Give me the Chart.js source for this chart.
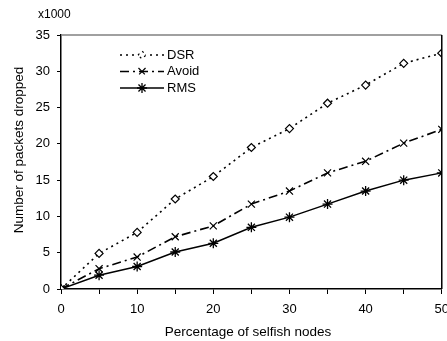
<!DOCTYPE html>
<html>
<head>
<meta charset="utf-8">
<script src="https://cdn.jsdelivr.net/npm/chart.js@4"></script>
<style>
  html, body { margin: 0; padding: 0; background: #fff; overflow: hidden; }
  #wrap { width: 457px; height: 341px; }
</style>
</head>
<body>
<div id="wrap"><canvas id="chart"></canvas></div>
<script>
// values (packets dropped, x1000)
const selfish = [0, 5, 10, 15, 20, 25, 30, 35, 40, 45, 50];
const dsr   = [0, 4.9, 7.8, 12.4, 15.5, 19.5, 22.1, 25.6, 28.1, 31.1, 32.5];
const avoid = [0, 2.8, 4.4, 7.2, 8.7, 11.7, 13.5, 16.0, 17.6, 20.1, 22.0];
const rms   = [0, 1.9, 3.1, 5.1, 6.3, 8.5, 9.9, 11.7, 13.5, 15.0, 16.0];

const xTitle = 'Percentage of selfish nodes';
const yTitle = 'Number of packets dropped';
const yUnit = 'x1000';

const font = 'Liberation Sans, Arial, sans-serif';
Chart.defaults.font.family = font;
Chart.defaults.color = '#000';

function pts(ys) {
    return ys.map((y, i) => ({ x: selfish[i], y: y }));
}

// plot frame (gray top, black right), axis titles, "x1000" and the legend
const extras = {
    id: 'extras',
    afterDraw(chart) {
        const ctx = chart.ctx;
        const a = chart.chartArea;
        ctx.save();
        ctx.lineWidth = 1.5;
        ctx.strokeStyle = '#808080';
        ctx.beginPath();
        ctx.moveTo(a.left, a.top);
        ctx.lineTo(a.right, a.top);
        ctx.stroke();
        ctx.strokeStyle = '#000';
        ctx.beginPath();
        ctx.moveTo(a.right, a.top);
        ctx.lineTo(a.right, a.bottom);
        ctx.stroke();

        ctx.fillStyle = '#000';
        ctx.textBaseline = 'middle';
        ctx.font = '12px ' + font;
        ctx.textAlign = 'left';
        ctx.fillText(yUnit, 38, 15);

        ctx.font = '13.5px ' + font;
        ctx.textAlign = 'center';
        ctx.fillText(xTitle, 248, 332);
        ctx.save();
        ctx.translate(19, 150);
        ctx.rotate(-Math.PI / 2);
        ctx.fillText(yTitle, 0, 0);
        ctx.restore();

        // legend
        ctx.font = '13px ' + font;
        ctx.textAlign = 'left';
        chart.data.datasets.forEach((ds, i) => {
            const y = 55 + i * 16.5;
            ctx.save();
            ctx.strokeStyle = '#000';
            ctx.lineWidth = ds.borderWidth;
            ctx.setLineDash(ds.borderDash || []);
            ctx.beginPath();
            ctx.moveTo(120, y);
            ctx.lineTo(164, y);
            ctx.stroke();
            ctx.fillStyle = ds.pointBackgroundColor;
            ctx.strokeStyle = '#000';
            ctx.lineWidth = ds.pointBorderWidth;
            Chart.helpers.drawPoint(ctx, {
                pointStyle: ds.pointStyle,
                radius: ds.pointRadius,
                borderWidth: ds.pointBorderWidth
            }, 142, y);
            ctx.restore();
            ctx.fillText(ds.label, 167, y);
        });
        ctx.restore();
    }
};

new Chart(document.getElementById('chart'), {
    type: 'line',
    data: {
        datasets: [
            {
                label: 'DSR', data: pts(dsr),
                borderColor: '#000', borderWidth: 1.6, borderDash: [2, 4],
                pointStyle: 'rectRot', pointRadius: 4, pointBorderWidth: 1.2,
                pointBackgroundColor: '#fff', pointBorderColor: '#000'
            },
            {
                label: 'Avoid', data: pts(avoid),
                borderColor: '#000', borderWidth: 1.6, borderDash: [9, 4, 2, 4],
                pointStyle: 'crossRot', pointRadius: 5, pointBorderWidth: 1.2,
                pointBackgroundColor: '#000', pointBorderColor: '#000'
            },
            {
                label: 'RMS', data: pts(rms),
                borderColor: '#000', borderWidth: 1.5,
                pointStyle: 'star', pointRadius: 5, pointBorderWidth: 1.3,
                pointBackgroundColor: '#000', pointBorderColor: '#000'
            }
        ]
    },
    options: {
        responsive: true,
        maintainAspectRatio: false,
        animation: false,
        events: [],
        layout: { padding: { top: 35, right: 0, left: 0, bottom: 0 } },
        plugins: { legend: { display: false }, tooltip: { enabled: false } },
        scales: {
            x: {
                type: 'linear', min: 0, max: 50,
                afterFit: s => { s.height = 52; },
                ticks: {
                    stepSize: 5, padding: 8, maxRotation: 0,
                    font: { size: 13 },
                    callback: v => (v % 10 === 0 ? v : '')
                },
                grid: { drawOnChartArea: false, tickLength: 5, color: '#000', lineWidth: 1 },
                border: { color: '#000', width: 1.5 }
            },
            y: {
                min: 0, max: 35,
                afterFit: s => { s.width = 61; },
                ticks: { stepSize: 5, padding: 7, font: { size: 13 } },
                grid: { drawOnChartArea: false, tickLength: 4, color: '#000', lineWidth: 1 },
                border: { color: '#000', width: 1.5 }
            }
        }
    },
    plugins: [extras]
});
</script>
</body>
</html>
